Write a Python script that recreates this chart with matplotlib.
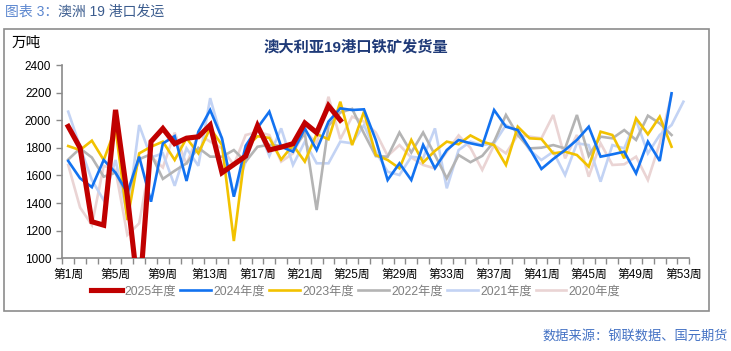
import numpy as np
import matplotlib.pyplot as plt
from matplotlib.patches import Rectangle

plt.rcParams['font.family'] = ['Liberation Sans', 'Noto Sans CJK SC', 'DejaVu Sans']

# weekly shipments from 19 Australian ports (10k tonnes)
y2025 = [1955, 1800, 1265, 1240, 2075, 1450, 700, 1845, 1940, 1830, 1870, 1880,
         1965, 1620, 1680, 1740, 1960, 1785, 1805, 1830, 1980, 1910, 2105, 2000]
y2024 = [1705, 1580, 1515, 1712, 1620, 1475, 1736, 1410, 1832, 1885, 1560, 1917,
         2074, 1869, 1446, 1815, 1945, 2062, 1808, 1772, 1941, 1784, 1990, 2086,
         2074, 2079, 1857, 1567, 1688, 1567, 1821, 1652, 1784, 1857, 1833, 1815,
         2074, 1953, 1929, 1796, 1647, 1719, 1784, 1857, 1953, 1736, 1753, 1772,
         1615, 1845, 1705, 2195]
y2023 = [1813, 1784, 1852, 1712, 1941, 1277, 1760, 1808, 1845, 1712, 1870, 1760,
         1943, 1820, 1125, 1800, 1884, 1872, 1715, 1820, 1700, 1900, 1862, 2134,
         1820, 2062, 1748, 1712, 1652, 1857, 1694, 1778, 1845, 1826, 1890, 1845,
         1820, 1676, 1953, 1869, 1864, 1760, 1772, 1748, 1664, 1917, 1893, 1724,
         2014, 1898, 2026, 1808]
y2022 = [1715, 1796, 1730, 1591, 1620, 1458, 1718, 1754, 1575, 1634, 1688, 1800,
         1736, 1736, 1784, 1700, 1808, 1822, 1814, 1790, 1905, 1350, 1960, 2056,
         2082, 1905, 1740, 1736, 1911, 1766, 1911, 1748, 1579, 1748, 1696, 1742,
         1845, 2038, 1893, 1796, 1801, 1820, 1796, 2038, 1742, 1881, 1869, 1929,
         1857, 2033, 1977, 1893]
y2021 = [2062, 1808, 1567, 1420, 1712, 1310, 1965, 1730, 1760, 1525, 1796, 1670,
         2160, 1857, 1452, 1700, 1953, 1742, 1941, 1676, 1845, 1688, 1688, 1845,
         1833, 1965, 1772, 1627, 1603, 1736, 1724, 1941, 1507, 1784, 1845, 1820,
         1833, 1965, 1917, 1784, 1712, 1772, 1603, 1833, 1820, 1555, 1820, 1796,
         2002, 1760, 1893, 1965, 2134]
y2020 = [1676, 1368, 1241, 1670, 1640, 1169, 1253, 1736, 1658, 1910, 1680, 1900,
         1845, 1796, 1676, 1893, 1915, 1893, 1700, 1760, 1923, 1833, 2170, 1863,
         2026, 1990, 1911, 1742, 1820, 1730, 1676, 1651, 1772, 1890, 1800, 1640,
         1820, 1760, 1893, 1881, 1869, 2038, 1724, 1893, 1591, 1833, 1676, 1681,
         1736, 1567, 1833, 2183]

labels = ['2025年度', '2024年度', '2023年度', '2022年度', '2021年度', '2020年度']
label_weeks = list(range(1, 54, 4))

W, H = 731, 351
fig = plt.figure(figsize=(W / 100, H / 100), dpi=100)
ax = fig.add_axes([62.3 / W, 1 - 258.3 / H, 627 / W, 193.3 / H])

gray = '#8a8a8a'
styles = [
    (y2025, '#c00000', 3.7, 10),
    (y2024, '#1272f0', 1.9, 8),
    (y2023, '#f2c200', 1.9, 7),
    (y2022, '#b4b4b4', 1.9, 6),
    (y2021, '#c3d3f4', 1.9, 5),
    (y2020, '#ead4d4', 1.9, 4),
]
handles = []
for (vals, col, lw, z), lab in zip(styles, labels):
    x = np.arange(1, len(vals) + 1)
    h, = ax.plot(x, vals, color=col, lw=lw, zorder=z, label=lab,
                 solid_joinstyle='miter')
    handles.append(h)

ax.set_xlim(0.5, 53.5)
ax.set_ylim(1000, 2400)
ax.set_yticks(range(1000, 2401, 200))
ax.set_xticks(label_weeks)
ax.set_xticklabels([f'第{w}周' for w in label_weeks])
ax.set_xticks(np.arange(0.5, 54, 1), minor=True)
ax.tick_params(axis='x', which='major', length=0, pad=8, labelsize=8.5)
ax.tick_params(axis='x', which='minor', length=4, color=gray, width=1)
ax.tick_params(axis='y', length=4, color=gray, width=1, pad=4, labelsize=8.5)
for s in ['top', 'right']:
    ax.spines[s].set_visible(False)
for s in ['left', 'bottom']:
    ax.spines[s].set_color(gray)
    ax.spines[s].set_linewidth(1.2)

fig.legend(handles, labels, loc='center', bbox_to_anchor=(356 / W, 1 - 291.5 / H),
           ncol=6, frameon=False, fontsize=8.8, handlelength=2.5,
           handletextpad=0.2, columnspacing=0.35, labelcolor='#7f7f7f')

# outer frame
fig.patches.append(Rectangle((4 / W, 1 - 311 / H), 705 / W, 282 / H,
                             transform=fig.transFigure, fill=False,
                             edgecolor='#8c8c8c', lw=1.2))

fig.text(12 / W, 1 - 43 / H, '万吨', fontsize=10.5, va='center', ha='left')
fig.text(356 / W, 1 - 47 / H, '澳大利亚19港口铁矿发货量', fontsize=11,
         fontweight='bold', color='#1f3a78', ha='center', va='center')

# figure caption in two colours
t1 = fig.text(5 / W, 1 - 12 / H, '图表 3：', fontsize=10, color='#5b86cf',
              va='center', ha='left')
fig.canvas.draw()
bb = t1.get_window_extent()
fig.text(bb.x1 / W, 1 - 12 / H, '澳洲 19 港口发运', fontsize=10,
         color='#3b5c8e', va='center', ha='left')

fig.text(728 / W, 1 - 337 / H, '数据来源：钢联数据、国元期货', fontsize=9.5,
         color='#4472c4', ha='right', va='center')

plt.savefig('out.png', dpi=100)
